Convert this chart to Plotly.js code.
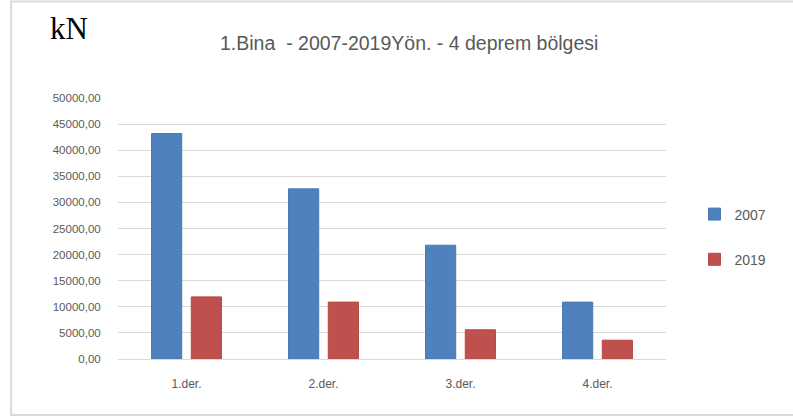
<!DOCTYPE html>
<html>
<head>
<meta charset="utf-8">
<script src="https://cdn.plot.ly/plotly-3.0.1.min.js"></script>
<style>html,body{margin:0;padding:0;background:#fff;}#chart{width:793px;height:419px;}</style>
</head>
<body>
<div id="chart"></div>
<script>
const categories = ["1.der.", "2.der.", "3.der.", "4.der."];
const series2007 = [43200, 32600, 21800, 10900];
const series2019 = [11900, 10900, 5600, 3600];
const tickVals = [0, 5000, 10000, 15000, 20000, 25000, 30000, 35000, 40000, 45000, 50000];
const tickLabels = ["0,00", "5000,00", "10000,00", "15000,00", "20000,00", "25000,00", "30000,00", "35000,00", "40000,00", "45000,00", "50000,00"];

const font = "Liberation Sans, Arial, sans-serif";
const data = [
  {type: "bar", name: "2007", x: categories, y: series2007, legendgroup: "a",
   marker: {color: "#4f81bd", line: {color: "#4a7ab3", width: 1}}},
  {type: "bar", name: "2019", x: categories, y: series2019, legendgroup: "b",
   marker: {color: "#c0504d", line: {color: "#b54a47", width: 1}}}
];
const layout = {
  width: 793, height: 419,
  margin: {l: 118, r: 127, t: 98, b: 60},
  paper_bgcolor: "#fff", plot_bgcolor: "#fff",
  barmode: "group", bargap: 0.42, bargroupgap: 0.24,
  showlegend: true,
  legend: {x: 1.052, xanchor: "left", y: 0.615, yanchor: "top", traceorder: "grouped",
           tracegroupgap: 24, font: {family: font, size: 14, color: "#595959"}, bgcolor: "rgba(0,0,0,0)"},
  title: {text: "1.Bina  - 2007-2019Yön. - 4 deprem bölgesi", x: 0.516, xanchor: "center", y: 0.897, yanchor: "middle",
          font: {family: font, size: 19.5, color: "#595959"}},
  xaxis: {type: "category", showgrid: false, showline: true, linecolor: "#d9d9d9", linewidth: 1,
          ticks: "", ticklabelstandoff: 14, tickfont: {family: font, size: 12, color: "#595959"}, fixedrange: true},
  yaxis: {range: [0, 50000], tickvals: tickVals, ticktext: tickLabels, showgrid: true, gridcolor: "#d9d9d9",
          gridwidth: 1, zeroline: false, showline: false, ticks: "outside", ticklen: 14, tickcolor: "rgba(0,0,0,0)",
          tickfont: {family: font, size: 11.5, color: "#595959"}, fixedrange: true},
  annotations: [
    {text: "kN", xref: "paper", yref: "paper", x: -0.089, y: 1.265, xanchor: "center", yanchor: "middle",
     showarrow: false, font: {family: "Liberation Serif, Times New Roman, serif", size: 31, color: "#000"}}
  ],
  shapes: [
    {type: "rect", xref: "paper", yref: "paper", x0: -0.195, x1: 1.3, y0: -0.215, y1: 1.37,
     line: {color: "#d9d9d9", width: 2}, fillcolor: "rgba(0,0,0,0)", layer: "below"}
  ]
};
Plotly.newPlot("chart", data, layout, {displayModeBar: false, staticPlot: true});
</script>
</body>
</html>
